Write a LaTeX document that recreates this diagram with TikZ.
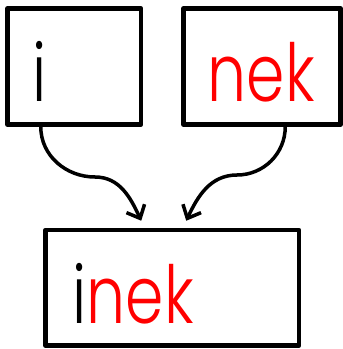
\documentclass[tikz,border=0pt]{standalone}
\usepackage{fontspec}
\setmainfont{Poppins Light}
\usepackage{xcolor}
\usetikzlibrary{arrows.meta}

\begin{document}
\begin{tikzpicture}[x=1pt,y=1pt,line width=4.5pt,line join=round,
  box/.style={draw,rectangle,inner sep=0pt},
  word/.style={anchor=base west,inner sep=0pt,xscale=0.77,transform shape,font=\fontsize{80}{80}\selectfont},
  arr/.style={line width=3.5pt,-{Straight Barb[length=11pt,width=20pt]}}]
\useasboundingbox (0,0) rectangle (343,349);
\node[box,minimum width=133.5,minimum height=116] (left) at (74.25,282.5) {};
\node[box,minimum width=157,minimum height=116] (right) at (262,282.5) {};
\node[box,minimum width=253.5,minimum height=115.5] (joined) at (172.25,61.25) {};
\node[word] (wi) at (31,247) {i};
\node[word,text=red] (wnek) at (206,247) {nek};
\node[word] (winek) at (71,25) {i\textcolor{red}{nek}};
\coordinate (bendl) at (95,172);
\coordinate (bendr) at (237,174);
\draw[arr] (left.south west)++(35.5,0) to[out=-90,in=180] (bendl) to[out=0,in=115] ([xshift=-31pt,yshift=7pt]joined.north);
\draw[arr] (right.south east)++(-57.5,0) to[out=-90,in=0] (bendr) to[out=180,in=65] ([xshift=14pt,yshift=7pt]joined.north);
\end{tikzpicture}
\end{document}
